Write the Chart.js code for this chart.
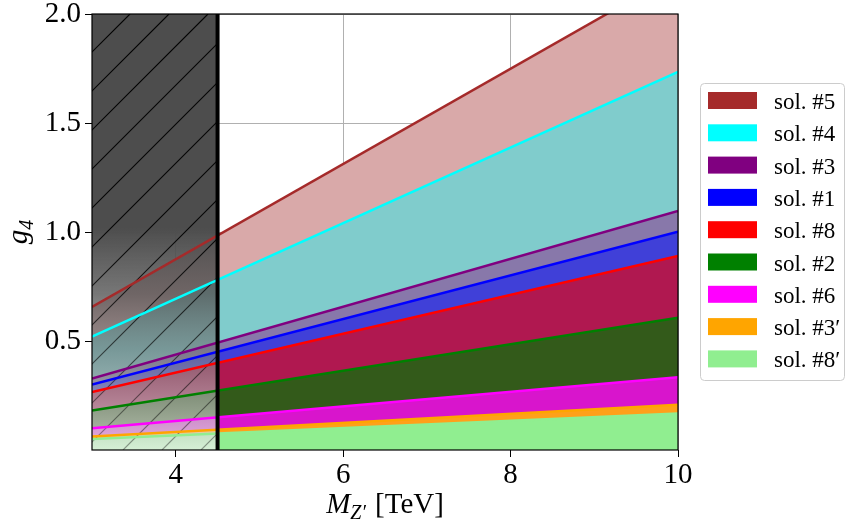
<!DOCTYPE html>
<html>
<head>
<meta charset="utf-8">
<script src="https://cdn.jsdelivr.net/npm/chart.js@4.4.0/dist/chart.umd.min.js"></script>
<style>
  html, body { margin: 0; padding: 0; background: #fff; }
  #wrap { width: 846px; height: 524px; }
</style>
</head>
<body>
<div id="wrap"><canvas id="myChart"></canvas></div>
<script>
const masses = [3, 10];

// g4 at M = 3 and M = 10 TeV
const sol5 = [0.656, 2.186];
const sol4 = [0.520, 1.734];
const sol3 = [0.328, 1.097];
const sol1 = [0.300, 1.001];
const sol8 = [0.266, 0.890];
const sol2 = [0.181, 0.607];
const sol6 = [0.100, 0.334];
const sol3p = [0.062, 0.208];
const sol8p = [0.050, 0.167];

const labels = ['sol. #5', 'sol. #4', 'sol. #3', 'sol. #1', 'sol. #8', 'sol. #2', 'sol. #6', 'sol. #3\u2032', 'sol. #8\u2032'];
const series = [sol5, sol4, sol3, sol1, sol8, sol2, sol6, sol3p, sol8p];
const lineColors = ['#a52a2a', '#00ffff', '#800080', '#0000ff', '#ff0000', '#008000', '#ff00ff', '#ffa500', '#90ee90'];
const bandColors = ['#d9a9a9', '#80cccc', '#8878aa', '#4040d8', '#b01850', '#335a1a', '#d815cc', '#ffa01a', '#90ee90'];

const xTicks = [4, 6, 8, 10];
const yTicks = [0.5, 1.0, 1.5, 2.0];
const excludedUpTo = 4.5;   // shaded / hatched mass range

const serif = '"Liberation Serif", "Times New Roman", serif';

const datasets = series.map((s, i) => ({
    label: labels[i],
    data: masses.map((m, j) => ({ x: m, y: s[j] })),
    borderColor: lineColors[i],
    backgroundColor: bandColors[i],
    borderWidth: 2.5,
    pointRadius: 0,
    tension: 0,
    fill: i < series.length - 1 ? '+1' : 'origin'
}));

// grey gradient + hatching over the excluded region, between fills and lines
const shadePlugin = {
    id: 'shade',
    beforeDatasetsDraw(chart) {
        const { ctx, chartArea: a, scales: { x, y } } = chart;
        const x0 = x.getPixelForValue(x.min);
        const x1 = x.getPixelForValue(excludedUpTo);
        ctx.save();
        ctx.beginPath();
        ctx.rect(x0, a.top, x1 - x0, a.bottom - a.top);
        ctx.clip();

        const g = ctx.createLinearGradient(0, y.getPixelForValue(1.02), 0, y.getPixelForValue(0));
        g.addColorStop(0, 'rgba(77,77,77,1)');
        g.addColorStop(0.3, 'rgba(85,85,85,0.8)');
        g.addColorStop(0.55, 'rgba(115,118,118,0.6)');
        g.addColorStop(1, 'rgba(240,240,240,0.72)');
        ctx.fillStyle = g;
        ctx.fillRect(x0, a.top, x1 - x0, a.bottom - a.top);

        const hg = ctx.createLinearGradient(0, y.getPixelForValue(1.0), 0, a.bottom);
        hg.addColorStop(0, 'rgba(0,0,0,0.95)');
        hg.addColorStop(1, 'rgba(0,0,0,0.35)');
        ctx.strokeStyle = hg;
        ctx.lineWidth = 1.2;
        const step = 39;
        ctx.beginPath();
        for (let c = x0 + a.top + 38 - step * 20; c < x1 + a.bottom + step; c += step) {
            ctx.moveTo(c - a.top, a.top);
            ctx.lineTo(c - a.bottom, a.bottom);
        }
        ctx.stroke();
        ctx.restore();
    },
    afterDraw(chart) {
        const { ctx, chartArea: a, scales: { x } } = chart;
        ctx.save();

        // boundary of the excluded region
        const xb = x.getPixelForValue(excludedUpTo);
        ctx.strokeStyle = '#000';
        ctx.lineWidth = 4;
        ctx.beginPath();
        ctx.moveTo(xb, a.top);
        ctx.lineTo(xb, a.bottom);
        ctx.stroke();

        // frame
        ctx.lineWidth = 1.2;
        ctx.strokeRect(a.left, a.top, a.right - a.left, a.bottom - a.top);

        // axis titles
        ctx.fillStyle = '#000';
        ctx.textBaseline = 'alphabetic';
        ctx.textAlign = 'left';
        const fBig = 'italic 29px ' + serif;
        const fSub = 'italic 20px ' + serif;
        const fUp = '29px ' + serif;
        ctx.font = fBig; const wM = ctx.measureText('M').width;
        ctx.font = fSub; const wZ = ctx.measureText('Z\u2032').width;
        ctx.font = fUp; const wT = ctx.measureText(' [TeV]').width;
        let tx = (a.left + a.right) / 2 - (wM + wZ + 2 + wT) / 2;
        const ty = 513;
        ctx.font = fBig; ctx.fillText('M', tx, ty); tx += wM;
        ctx.font = fSub; ctx.fillText('Z\u2032', tx, ty + 6); tx += wZ + 2;
        ctx.font = fUp; ctx.fillText(' [TeV]', tx, ty);

        ctx.save();
        ctx.translate(27, (a.top + a.bottom) / 2);
        ctx.rotate(-Math.PI / 2);
        ctx.font = fBig; const wg = ctx.measureText('g').width;
        ctx.font = fSub; const w4 = ctx.measureText('4').width;
        let gx = -(wg + w4) / 2;
        ctx.font = fBig; ctx.fillText('g', gx, 0); gx += wg;
        ctx.font = fSub; ctx.fillText('4', gx, 6);
        ctx.restore();

        // legend
        const lx = 700.5, ly = 83.5, lw = 144, lh = 297, r = 4;
        ctx.beginPath();
        ctx.roundRect(lx, ly, lw, lh, r);
        ctx.fillStyle = 'rgba(255,255,255,0.8)';
        ctx.fill();
        ctx.strokeStyle = '#cccccc';
        ctx.lineWidth = 1;
        ctx.stroke();
        ctx.font = '23px ' + serif;
        chart.data.datasets.forEach((ds, i) => {
            const cy = 100.5 + i * 32.3;
            ctx.fillStyle = ds.borderColor;
            ctx.fillRect(708, cy - 8.5, 49, 17);
            ctx.fillStyle = '#000';
            ctx.fillText(ds.label, 774, cy + 8.5);
        });
        ctx.restore();
    }
};

const ctx = document.getElementById('myChart').getContext('2d');
const myChart = new Chart(ctx, {
    type: 'line',
    data: { datasets: datasets },
    options: {
        responsive: true,
        maintainAspectRatio: false,
        animation: false,
        devicePixelRatio: 1,
        layout: { padding: { top: 14, right: 168, left: 0, bottom: 0 } },
        plugins: {
            legend: { display: false },
            tooltip: { enabled: false },
            filler: { drawTime: 'beforeDatasetsDraw' }
        },
        scales: {
            x: {
                type: 'linear',
                min: 3,
                max: 10,
                z: 1,
                afterBuildTicks: s => { s.ticks = xTicks.map(v => ({ value: v })); },
                afterFit: s => { s.height = 74; s.paddingLeft = 0; s.paddingRight = 0; },
                border: { display: false },
                grid: { color: '#b0b0b0', lineWidth: 1, tickColor: '#000', tickLength: 7 },
                ticks: {
                    color: '#000',
                    font: { family: serif, size: 29 },
                    padding: 1,
                    maxRotation: 0,
                    callback: v => String(v)
                }
            },
            y: {
                type: 'linear',
                min: 0,
                max: 2,
                z: 1,
                afterBuildTicks: s => { s.ticks = yTicks.map(v => ({ value: v })); },
                afterFit: s => { s.width = 92; s.paddingTop = 0; s.paddingBottom = 0; },
                border: { display: false },
                grid: { color: '#b0b0b0', lineWidth: 1, tickColor: '#000', tickLength: 7 },
                ticks: {
                    color: '#000',
                    font: { family: serif, size: 29 },
                    padding: 4,
                    callback: v => v.toFixed(1)
                }
            }
        }
    },
    plugins: [shadePlugin]
});
</script>
</body>
</html>
